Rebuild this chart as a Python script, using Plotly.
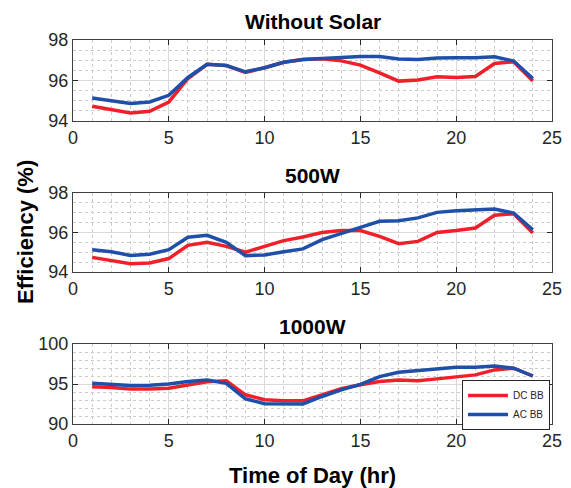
import plotly.graph_objects as go

hours = list(range(1, 25))

dc_nosolar = [94.73, 94.56, 94.40, 94.48, 94.94, 96.10, 96.80, 96.74, 96.40, 96.63, 96.90, 97.04,
              97.07, 96.97, 96.76, 96.38, 95.97, 96.02, 96.18, 96.15, 96.20, 96.84, 96.93, 95.98]
ac_nosolar = [95.14, 95.02, 94.86, 94.94, 95.27, 96.15, 96.80, 96.74, 96.43, 96.63, 96.90, 97.04,
              97.09, 97.14, 97.19, 97.19, 97.06, 97.04, 97.11, 97.12, 97.12, 97.17, 96.96, 96.10]

dc_500 = [94.74, 94.60, 94.42, 94.46, 94.68, 95.35, 95.50, 95.30, 95.00, 95.30, 95.59, 95.77,
          96.00, 96.10, 96.10, 95.80, 95.43, 95.55, 96.00, 96.10, 96.23, 96.87, 96.95, 95.97]
ac_500 = [95.13, 95.03, 94.84, 94.90, 95.13, 95.76, 95.86, 95.50, 94.83, 94.86, 95.03, 95.17,
          95.64, 95.97, 96.26, 96.57, 96.59, 96.74, 97.02, 97.10, 97.15, 97.19, 96.98, 96.14]

dc_1000 = [94.65, 94.56, 94.36, 94.36, 94.48, 94.90, 95.27, 95.40, 93.65, 93.03, 92.90, 92.90,
           93.65, 94.40, 94.90, 95.30, 95.50, 95.40, 95.64, 95.93, 96.14, 96.76, 96.97, 96.00]
ac_1000 = [95.08, 94.96, 94.80, 94.85, 95.00, 95.30, 95.50, 95.08, 93.15, 92.53, 92.50, 92.50,
           93.44, 94.27, 94.96, 95.93, 96.47, 96.68, 96.97, 97.10, 97.10, 97.26, 96.97, 96.00]

titles = ["Without Solar", "500W", "1000W"]
y_ranges = [[94, 98], [94, 98], [90, 100]]
y_dticks = [2, 2, 5]
y_minor = [0.5, 0.5, 1]
series = [(dc_nosolar, ac_nosolar), (dc_500, ac_500), (dc_1000, ac_1000)]

RED = "#F0202A"
BLUE = "#1F4FA8"
FONT = "Liberation Sans, Arial, sans-serif"

W, H = 571, 488
xdom = [73 / W, 552 / W]
pix_y = [(40, 121), (193, 272), (344, 424)]
ydoms = [[1 - b / H, 1 - t / H] for t, b in pix_y]

fig = go.Figure()
layout = dict(
    width=W, height=H,
    margin=dict(l=0, r=0, t=0, b=0, autoexpand=False),
    paper_bgcolor="white", plot_bgcolor="white",
    font=dict(family=FONT, color="#262626"),
    showlegend=True,
)

axis_common = dict(
    automargin=False,
    showline=True, linecolor="#404040", linewidth=1, mirror="ticks",
    ticks="inside", ticklen=5, tickcolor="#262626",
    showgrid=True, gridcolor="#DADADA", gridwidth=1,
    zeroline=False,
    tickfont=dict(size=18, color="#262626", family=FONT),
)

annotations = []
for i in range(3):
    n = i + 1
    xa = "x" if n == 1 else f"x{n}"
    ya = "y" if n == 1 else f"y{n}"
    dc, ac = series[i]
    fig.add_trace(go.Scatter(x=hours, y=dc, mode="lines", name="DC BB",
                             line=dict(color=RED, width=3.5), xaxis=xa, yaxis=ya,
                             showlegend=(i == 2)))
    fig.add_trace(go.Scatter(x=hours, y=ac, mode="lines", name="AC BB",
                             line=dict(color=BLUE, width=3.5), xaxis=xa, yaxis=ya,
                             showlegend=(i == 2)))
    xkey = "xaxis" if n == 1 else f"xaxis{n}"
    ykey = "yaxis" if n == 1 else f"yaxis{n}"
    layout[xkey] = dict(axis_common, domain=xdom, range=[0, 25], dtick=5, tick0=0,
                        anchor=ya,
                        minor=dict(dtick=1, showgrid=True, griddash="dot",
                                   gridcolor="#CCCCCC", gridwidth=1))
    layout[ykey] = dict(axis_common, domain=ydoms[i], range=y_ranges[i],
                        dtick=y_dticks[i], tick0=0, anchor=xa,
                        minor=dict(dtick=y_minor[i], showgrid=True, griddash="dot",
                                   gridcolor="#CCCCCC", gridwidth=1))
    annotations.append(dict(text=f"<b>{titles[i]}</b>", xref="paper", yref="paper",
                            x=(xdom[0] + xdom[1]) / 2, y=ydoms[i][1] + 18 / H,
                            xanchor="center", yanchor="middle", showarrow=False,
                            font=dict(size=21, color="black", family=FONT)))

annotations.append(dict(text="<b>Efficiency (%)</b>", xref="paper", yref="paper",
                        x=25 / W, y=1 - 232 / H, textangle=-90,
                        xanchor="center", yanchor="middle", showarrow=False,
                        font=dict(size=22, color="black", family=FONT)))
annotations.append(dict(text="<b>Time of Day (hr)</b>", xref="paper", yref="paper",
                        x=(xdom[0] + xdom[1]) / 2, y=1 - 475 / H,
                        xanchor="center", yanchor="middle", showarrow=False,
                        font=dict(size=22, color="black", family=FONT)))

layout["annotations"] = annotations
layout["legend"] = dict(x=550 / W, y=1 - 405 / H, xanchor="right", yanchor="middle",
                        bgcolor="white", bordercolor="#262626", borderwidth=1,
                        font=dict(size=10, color="#262626", family=FONT),
                        tracegroupgap=0, itemwidth=40)
fig.update_layout(**layout)
fig.write_html("out.html")
